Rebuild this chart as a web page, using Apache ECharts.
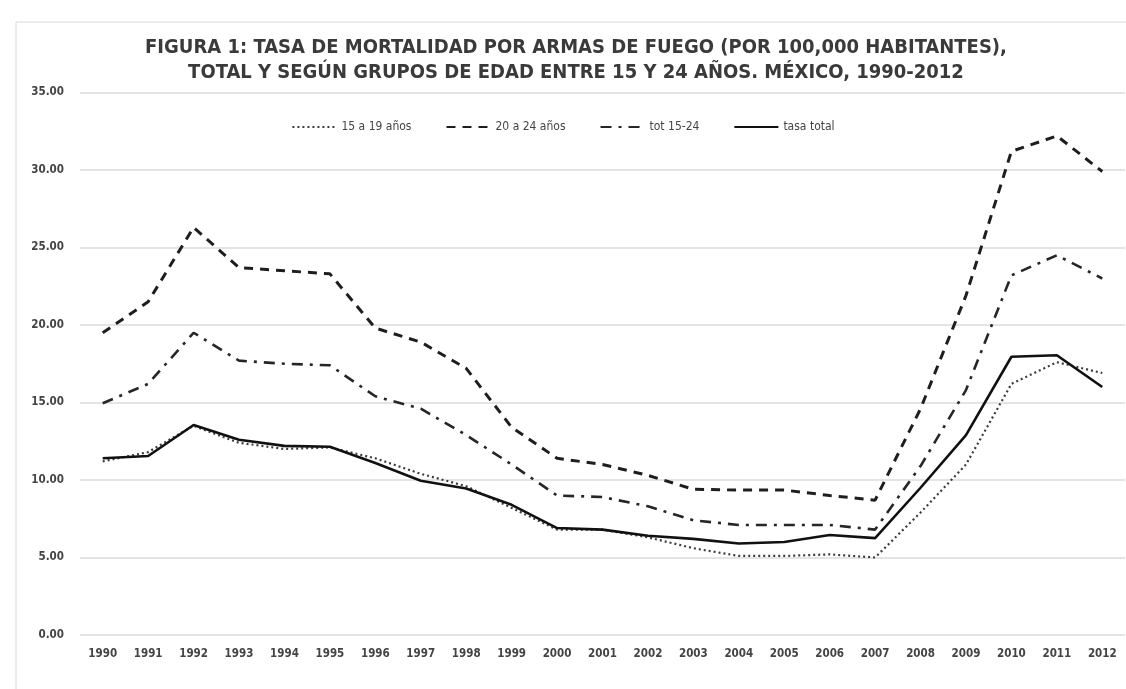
<!DOCTYPE html>
<html>
<head>
<meta charset="utf-8">
<script src="https://cdn.jsdelivr.net/npm/echarts@6/dist/echarts.min.js"></script>
<style>
html,body{margin:0;padding:0;background:#fff;}
#chart{width:1126px;height:689px;}
</style>
</head>
<body>
<div id="chart"></div>
<script>
const years = ['1990','1991','1992','1993','1994','1995','1996','1997','1998','1999','2000','2001','2002','2003','2004','2005','2006','2007','2008','2009','2010','2011','2012'];
const edad15a19 = [11.2,11.8,13.5,12.4,12.0,12.1,11.4,10.4,9.6,8.2,6.8,6.8,6.3,5.6,5.1,5.1,5.2,5.0,7.9,11.0,16.2,17.6,16.9];
const edad20a24 = [19.5,21.5,26.3,23.7,23.5,23.3,19.8,18.9,17.2,13.4,11.4,11.0,10.3,9.4,9.35,9.35,9.0,8.7,14.6,21.9,31.2,32.2,29.9];
const tot15a24 = [14.95,16.2,19.5,17.7,17.5,17.4,15.4,14.6,12.9,11.0,9.0,8.9,8.3,7.4,7.1,7.1,7.1,6.8,10.9,15.8,23.2,24.5,23.0];
const tasaTotal = [11.4,11.55,13.55,12.6,12.2,12.15,11.1,9.95,9.45,8.4,6.9,6.8,6.4,6.2,5.9,6.0,6.45,6.25,9.5,12.9,17.95,18.05,16.0];
const seriesNames = ['15 a 19 años','20 a 24 años','tot 15-24','tasa total'];
const titleLines = ['FIGURA 1: TASA DE MORTALIDAD POR ARMAS DE FUEGO (POR 100,000 HABITANTES),','TOTAL Y SEGÚN GRUPOS DE EDAD ENTRE 15 Y 24 AÑOS. MÉXICO, 1990-2012'];

const chart = echarts.init(document.getElementById('chart'));
const font = "'DejaVu Sans Condensed','Liberation Sans Narrow',Arial,sans-serif";
function line(name, data, lineStyle){
  return {name:name,type:'line',data:data,symbol:'none',showSymbol:false,smooth:false,lineStyle:lineStyle,itemStyle:{color:lineStyle.color},animation:false};
}
chart.setOption({
  backgroundColor:'#fff',
  animation:false,
  graphic:[{type:'rect',shape:{x:16,y:22,width:1130,height:700},style:{fill:'none',stroke:'#d8d8d8',lineWidth:1},silent:true}],
  title:{
    text:titleLines.join('\n'),
    left:571,textAlign:'center',top:30,
    textStyle:{fontFamily:font,fontWeight:'bold',fontSize:20,color:'#3a3a3a',lineHeight:25}
  },
  legend:{
    top:116,left:'center',itemWidth:44,itemHeight:10,itemGap:34,
    itemStyle:{opacity:0},
    textStyle:{fontFamily:font,fontSize:12,color:'#444'},
    data:seriesNames
  },
  grid:{left:80,right:1,top:92.5,bottom:54,containLabel:false},
  xAxis:{
    type:'category',data:years,boundaryGap:true,
    axisLine:{show:false},axisTick:{show:false},
    axisLabel:{fontFamily:font,fontSize:11.5,fontWeight:'bold',color:'#444',margin:13}
  },
  yAxis:{
    type:'value',min:0,max:35,interval:5,
    axisLabel:{fontFamily:font,fontSize:11.5,fontWeight:'bold',color:'#444',margin:16,formatter:v=>v.toFixed(2)},
    axisLine:{show:false},axisTick:{show:false},
    splitLine:{lineStyle:{color:'#e4e4e4',width:2}}
  },
  series:[
    line(seriesNames[0],edad15a19,{color:'#3c3c3c',width:2.2,type:[2,3]}),
    line(seriesNames[1],edad20a24,{color:'#1e1e1e',width:3,type:[9,7]}),
    line(seriesNames[2],tot15a24,{color:'#262626',width:2.6,type:[11,7,3,7]}),
    line(seriesNames[3],tasaTotal,{color:'#111',width:2.6,type:'solid'})
  ]
});
</script>
</body>
</html>
